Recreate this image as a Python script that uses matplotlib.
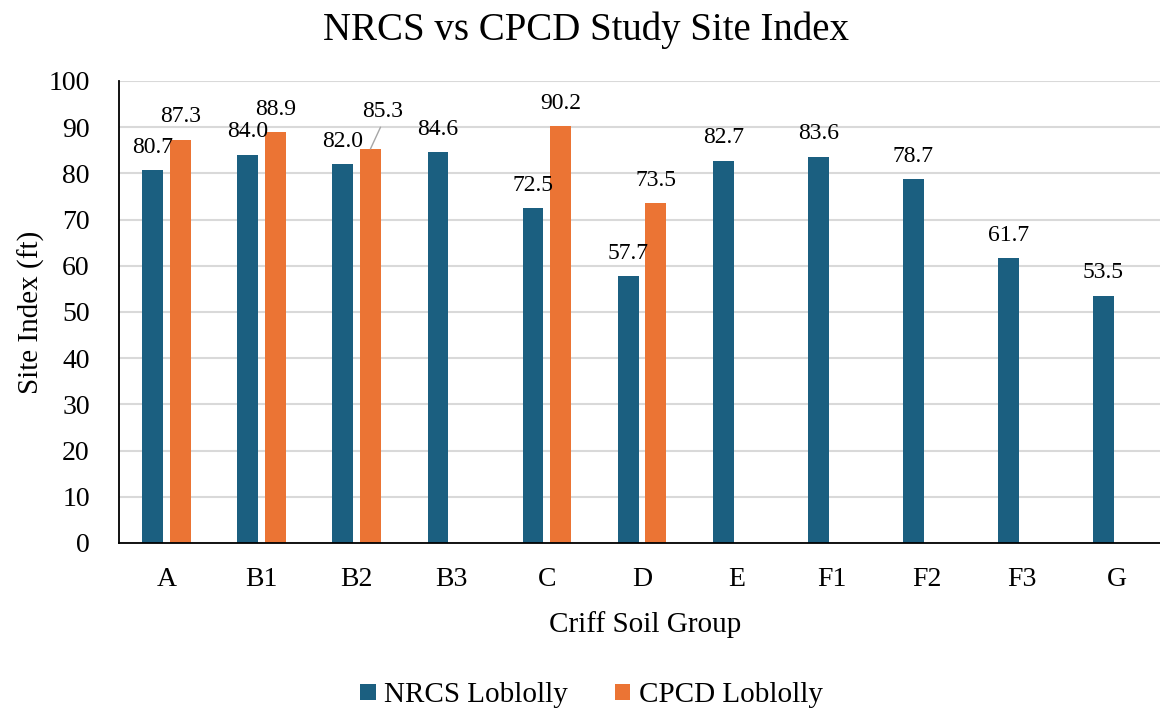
import numpy as np
import matplotlib
matplotlib.use('Agg')
import matplotlib.pyplot as plt

plt.rcParams['font.family'] = ['Liberation Serif', 'DejaVu Serif']

grupos = ['A', 'B1', 'B2', 'B3', 'C', 'D', 'E', 'F1', 'F2', 'F3', 'G']
nrcs = [80.7, 84.0, 82.0, 84.6, 72.5, 57.7, 82.7, 83.6, 78.7, 61.7, 53.5]
cpcd = [87.3, 88.9, 85.3, np.nan, 90.2, 73.5, np.nan, np.nan, np.nan, np.nan, np.nan]

color_nrcs = '#1b5f80'
color_cpcd = '#eb7434'

fig = plt.figure(figsize=(11.6, 7.14), dpi=100)
ax = fig.add_axes([0.1026, 0.2395, 0.8974, 0.6471])

x = np.arange(len(grupos))
ancho = 0.22
desp = 0.145

barras_nrcs = ax.bar(x - desp, nrcs, ancho, color=color_nrcs, label='NRCS Loblolly', zorder=3)
barras_cpcd = ax.bar(x + desp, cpcd, ancho, color=color_cpcd, label='CPCD Loblolly', zorder=3)

# etiquetas de valor
for barras, valores in [(barras_nrcs, nrcs), (barras_cpcd, cpcd)]:
    for b, v in zip(barras, valores):
        if np.isnan(v):
            continue
        cx = b.get_x() + b.get_width() / 2
        if barras is barras_cpcd and v == 85.3:
            # etiqueta desplazada con linea guia
            ax.annotate(f'{v:.1f}', xy=(cx, v), xytext=(9, 27), textcoords='offset points',
                        ha='center', va='center', fontsize=17, zorder=4,
                        arrowprops=dict(arrowstyle='-', color='#a6a6a6', lw=1,
                                        shrinkA=2, shrinkB=0, relpos=(0.5, 0)))
        else:
            ax.annotate(f'{v:.1f}', xy=(cx, v), xytext=(0, 16.5), textcoords='offset points',
                        ha='center', va='center', fontsize=17, zorder=4)

ax.set_xlim(-0.5, 10.45)
ax.set_ylim(0, 100)
ax.set_yticks(np.arange(0, 101, 10))
ax.set_xticks(x)
ax.set_xticklabels(grupos)
ax.tick_params(axis='both', length=0, labelsize=20)
ax.tick_params(axis='y', pad=21)
ax.tick_params(axis='x', pad=17)

ax.grid(axis='y', color='#d9d9d9', lw=1.5, zorder=0)
for lado in ['top', 'right']:
    ax.spines[lado].set_visible(False)
for lado in ['left', 'bottom']:
    ax.spines[lado].set_color('black')
    ax.spines[lado].set_linewidth(1.3)
    ax.spines[lado].set_zorder(4)

ax.set_ylabel('Site Index (ft)', fontsize=21)
ax.yaxis.set_label_coords(-0.071, 0.5)
ax.set_xlabel('Criff Soil Group', fontsize=21)
ax.xaxis.set_label_coords(0.505, -0.148)

fig.text(0.505, 0.957, 'NRCS vs CPCD Study Site Index', ha='center', va='center', fontsize=28)

fig.legend(handles=[barras_nrcs, barras_cpcd], loc='center', bbox_to_anchor=(0.51, 0.026),
           ncol=2, frameon=False, fontsize=21, handlelength=0.52, handleheight=0.48,
           handletextpad=0.3, columnspacing=1.6)

fig.savefig('out.png', dpi=100)
